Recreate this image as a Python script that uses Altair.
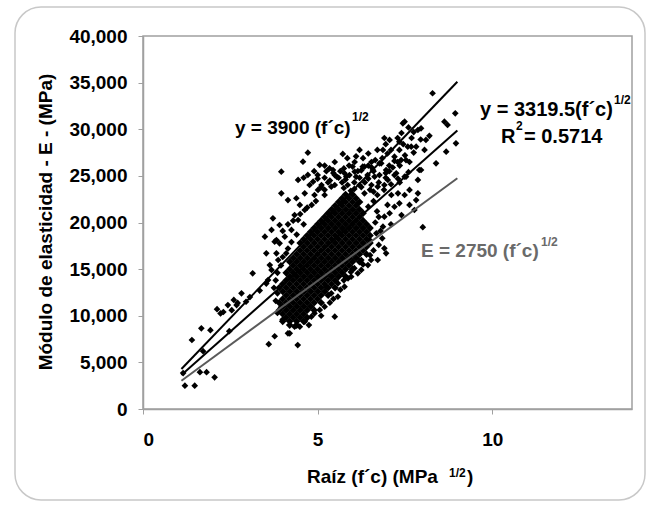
import altair as alt
import pandas as pd

# ---------------- data ----------------
# x = Raíz(f'c) (MPa^1/2), y = E (MPa)

# dense core of the cloud: one y value per row and the x values in that row
core_row_y = [9000, 9400, 9800, 10200, 10600, 11000, 11400, 11800, 12200, 12600,
              13000, 13400, 13800, 14200, 14600, 15000, 15400, 15800, 16200, 16600,
              17000, 17400, 17800, 18200, 18600, 19000, 19400, 19800, 20200, 20600,
              21000, 21400, 21800, 22200, 22600, 23000]
core_row_x = [
    [4.2, 4.4],
    [4.0, 4.2, 4.4, 4.6],
    [4.1, 4.3, 4.5, 4.7],
    [4.0, 4.2, 4.4, 4.6],
    [3.9, 4.1, 4.3, 4.5, 4.7, 4.9],
    [4.0, 4.2, 4.4, 4.6, 4.8],
    [3.9, 4.1, 4.3, 4.5, 4.7, 4.9, 5.1],
    [4.0, 4.2, 4.4, 4.6, 4.8, 5.0],
    [4.1, 4.3, 4.5, 4.7, 4.9, 5.1, 5.3],
    [4.0, 4.2, 4.4, 4.6, 4.8, 5.0, 5.2],
    [3.9, 4.1, 4.3, 4.5, 4.7, 4.9, 5.1, 5.3, 5.5],
    [4.0, 4.2, 4.4, 4.6, 4.8, 5.0, 5.2, 5.4],
    [4.1, 4.3, 4.5, 4.7, 4.9, 5.1, 5.3, 5.5],
    [4.2, 4.4, 4.6, 4.8, 5.0, 5.2, 5.4, 5.6, 5.8],
    [4.1, 4.3, 4.5, 4.7, 4.9, 5.1, 5.3, 5.5, 5.7],
    [4.2, 4.4, 4.6, 4.8, 5.0, 5.2, 5.4, 5.6, 5.8, 6.0],
    [4.3, 4.5, 4.7, 4.9, 5.1, 5.3, 5.5, 5.7, 5.9],
    [4.2, 4.4, 4.6, 4.8, 5.0, 5.2, 5.4, 5.6, 5.8, 6.0, 6.2],
    [4.3, 4.5, 4.7, 4.9, 5.1, 5.3, 5.5, 5.7, 5.9, 6.1],
    [4.4, 4.6, 4.8, 5.0, 5.2, 5.4, 5.6, 5.8, 6.0, 6.2, 6.4],
    [4.5, 4.7, 4.9, 5.1, 5.3, 5.5, 5.7, 5.9, 6.1, 6.3],
    [4.6, 4.8, 5.0, 5.2, 5.4, 5.6, 5.8, 6.0, 6.2, 6.4],
    [4.5, 4.7, 4.9, 5.1, 5.3, 5.5, 5.7, 5.9, 6.1, 6.3, 6.5],
    [4.6, 4.8, 5.0, 5.2, 5.4, 5.6, 5.8, 6.0, 6.2, 6.4],
    [4.7, 4.9, 5.1, 5.3, 5.5, 5.7, 5.9, 6.1, 6.3, 6.5],
    [4.8, 5.0, 5.2, 5.4, 5.6, 5.8, 6.0, 6.2, 6.4],
    [4.9, 5.1, 5.3, 5.5, 5.7, 5.9, 6.1, 6.3, 6.5],
    [5.0, 5.2, 5.4, 5.6, 5.8, 6.0, 6.2, 6.4],
    [5.1, 5.3, 5.5, 5.7, 5.9, 6.1, 6.3],
    [5.2, 5.4, 5.6, 5.8, 6.0, 6.2],
    [5.3, 5.5, 5.7, 5.9, 6.1, 6.3],
    [5.4, 5.6, 5.8, 6.0, 6.2],
    [5.5, 5.7, 5.9, 6.1],
    [5.6, 5.8, 6.0, 6.2],
    [5.7, 5.9, 6.1],
    [5.8, 6.0],
]

# scattered points around the core, (x, y)
pts_lower_left = [
    (1.15, 3850), (1.2, 2500), (1.48, 2500), (1.63, 3950), (1.82, 3950), (2.05, 3400),
    (1.4, 7400), (1.67, 8650), (1.93, 8450), (2.47, 8350), (1.72, 6200), (2.12, 10700),
    (2.22, 10250), (2.3, 10400), (2.43, 11150), (2.6, 11700), (2.68, 11150), (2.82, 12400),
    (2.95, 11500), (3.06, 12000), (3.14, 14550), (3.34, 12700), (3.53, 13450), (3.6, 6950),
    (3.77, 7800), (4.43, 6860), (2.54, 10600), (2.71, 11370),
]
pts_left = [
    (3.63, 15440), (3.82, 16700), (3.91, 17770), (3.53, 16700), (3.68, 14910), (3.58, 13830),
    (3.87, 15980), (3.72, 20450), (3.91, 19730), (3.68, 19200), (3.82, 18120), (4.06, 18480),
    (4.25, 19200), (4.44, 20270), (4.63, 21340), (3.49, 18480), (3.77, 17940), (3.75, 13000),
    (3.8, 13800), (3.85, 14600), (3.95, 15400), (4.0, 16300), (4.15, 17200), (4.49, 21880),
    (4.83, 21880), (4.34, 20800), (4.15, 19800), (4.3, 20200), (4.5, 20900), (4.0, 19100),
    (4.7, 21600), (4.95, 22300), (4.1, 16700), (4.25, 17900), (4.4, 18700), (3.85, 12400),
    (3.8, 11600), (3.95, 10900), (3.85, 10300), (4.0, 9600), (4.6, 19800),
]
pts_upper = [
    (4.72, 27490), (5.72, 27350), (3.96, 25450), (4.58, 26520), (5.06, 26170), (5.34, 25810),
    (4.44, 24560), (4.72, 25100), (4.87, 24380), (5.77, 25280), (6.06, 25450), (6.34, 25990),
    (6.63, 24910), (3.96, 23130), (4.15, 22410), (4.39, 22600), (4.63, 23130), (5.01, 23490),
    (5.39, 23840), (5.67, 22060), (6.15, 22060), (6.34, 23130), (6.72, 23840), (7.01, 24560),
    (6.82, 26350), (4.77, 24020), (5.11, 24020), (5.49, 24020), (5.86, 24020), (6.2, 24020),
    (6.54, 24020), (6.91, 24020), (4.91, 22950), (5.2, 22950), (6.71, 22950), (7.11, 22950),
    (7.49, 22950), (5.0, 25090), (5.49, 25090), (5.91, 25090), (6.43, 25090), (6.77, 25090),
    (7.2, 25090), (5.49, 26490), (6.06, 26490), (6.54, 26490), (7.29, 26490), (7.63, 26490),
    (6.2, 27780), (6.71, 27780), (7.34, 27780), (8.06, 27780), (6.91, 29060), (7.29, 29060),
    (7.69, 29060), (5.2, 23500), (6.5, 23500), (6.9, 23500), (5.3, 24300), (5.7, 24300),
    (6.05, 24300), (6.35, 24300), (6.75, 24300), (7.35, 24300), (4.6, 24800), (5.2, 24800),
    (5.6, 24800), (6.2, 24800), (6.95, 24800), (4.9, 25500), (5.25, 25500), (5.65, 25500),
    (6.15, 25500), (6.6, 25500), (7.05, 25500), (5.2, 26100), (5.9, 26100), (6.45, 26100),
    (7.05, 26100), (5.85, 26900), (6.3, 26900), (6.85, 26900), (6.45, 27400), (7.0, 27400),
    (6.95, 28400), (7.45, 28400), (5.95, 23400), (6.6, 22300), (6.45, 21700), (6.7, 21200),
    (5.0, 24700), (5.35, 24500), (5.55, 24900), (5.8, 24600), (6.1, 24900), (6.45, 24700),
    (5.1, 23800), (5.75, 23700), (6.05, 23600), (6.25, 23800), (6.6, 23300), (5.45, 25300),
    (5.75, 25800), (6.0, 26000), (6.25, 25600), (6.55, 25900), (6.95, 25300), (7.15, 25900),
    (7.3, 24700), (7.1, 24100), (6.65, 26700), (6.1, 27100),
]
pts_top_right = [
    (8.29, 33860), (8.94, 31710), (8.63, 30810), (8.72, 30460), (8.96, 28490), (8.68, 27590),
    (8.39, 26350), (7.87, 29920), (7.96, 30100), (7.49, 30810), (8.1, 28850), (7.82, 28130),
    (7.58, 28130), (7.34, 28670), (7.06, 28850), (6.87, 27780), (7.2, 27060), (7.53, 26700),
    (7.91, 25630), (7.87, 24560), (7.63, 23490), (7.87, 23130), (6.58, 25630), (6.29, 25990),
    (5.44, 25630), (5.82, 24910), (6.77, 26350), (6.96, 25630), (7.25, 25280), (7.53, 24910),
    (7.1, 27780), (7.39, 26700), (7.68, 28130), (7.49, 24910), (7.96, 25630), (7.44, 30640),
    (7.6, 25400), (7.35, 26100), (7.2, 26600), (7.75, 27500), (7.5, 27200), (7.95, 28900),
    (7.75, 29700), (8.2, 29300), (7.4, 29600), (7.6, 30200),
]
pts_right = [
    (7.77, 21340), (7.34, 22060), (7.06, 20990), (6.87, 19550), (6.68, 18840), (6.91, 17230),
    (6.49, 18120), (7.82, 22410), (7.3, 23130), (7.2, 21690), (6.91, 20620), (7.0, 21880),
    (7.63, 21880), (7.4, 20800), (8.01, 19500), (6.75, 17600), (6.85, 18300), (6.8, 19100),
    (7.1, 19800), (6.6, 17000), (6.65, 20000), (6.75, 20600),
]
pts_lower_right = [
    (6.53, 15980), (6.25, 14910), (5.96, 14190), (5.77, 13120), (5.39, 12410), (5.49, 9900),
    (5.2, 10970), (4.91, 10260), (4.63, 9360), (4.34, 8830), (4.15, 8120), (5.87, 14010),
    (6.15, 14550), (6.44, 15440), (6.72, 15980), (6.96, 16700), (6.25, 15980), (5.58, 12040),
    (5.06, 10620), (4.82, 9900), (4.49, 8830), (4.2, 8120), (5.25, 13120), (5.58, 13480),
    (5.65, 12800), (5.35, 11400), (5.1, 10000), (4.75, 9000), (6.05, 15100), (6.3, 15500),
    (5.95, 14700), (6.5, 16500), (5.45, 11800), (5.75, 13800),
]

# fitted lines (end points)
line_x = [1.1, 9.0]
line_3900_y = [4290, 35100]
line_3319_y = [3651, 29876]
line_2750_y = [3025, 24750]

x_ticks = [0, 5, 10]
y_ticks = [0, 5000, 10000, 15000, 20000, 25000, 30000, 35000, 40000]

# ---------------- tables ----------------
core_df = pd.DataFrame(
    [(x, y) for y, xs in zip(core_row_y, core_row_x) for x in xs], columns=["x", "y"])
halo_df = pd.DataFrame(
    pts_lower_left + pts_left + pts_upper + pts_top_right + pts_right + pts_lower_right,
    columns=["x", "y"])
one = pd.DataFrame({"k": [0]})

FONT = "Liberation Sans"
GRAY_AX = "#a0a0a0"

xscale = alt.Scale(domain=[0, 14], nice=False, zero=False)
yscale = alt.Scale(domain=[0, 40000], nice=False)
xaxis = alt.Axis(values=x_ticks, labelFont=FONT, labelFontSize=19, labelFontWeight="bold",
                 labelColor="black", domainColor=GRAY_AX, domainWidth=1.5,
                 tickColor=GRAY_AX, tickSize=5, labelPadding=16, grid=False)
yaxis = alt.Axis(values=y_ticks, format=",d", labelFont=FONT, labelFontSize=19,
                 labelFontWeight="bold", labelColor="black", domainColor=GRAY_AX,
                 domainWidth=1.5, tickColor=GRAY_AX, tickSize=5, labelPadding=11, grid=False)

frame = alt.Chart(one).mark_rect(cornerRadius=26, fillOpacity=0, stroke="#c8c8c8",
                                 strokeWidth=1.5).encode(
    x=alt.value(-128), x2=alt.value(502), y=alt.value(-29), y2=alt.value(464))

core = alt.Chart(core_df).mark_point(shape="diamond", filled=True, size=58, color="black",
                                     opacity=1).encode(
    x=alt.X("x:Q", scale=xscale, axis=xaxis, title=None),
    y=alt.Y("y:Q", scale=yscale, axis=yaxis, title=None))

halo = alt.Chart(halo_df).mark_point(shape="diamond", filled=True, size=45, color="black",
                                     opacity=1).encode(
    x=alt.X("x:Q", scale=xscale), y=alt.Y("y:Q", scale=yscale))


def fit_line(ys, color):
    df = pd.DataFrame({"x": line_x, "y": ys})
    return alt.Chart(df).mark_line(color=color, strokeWidth=2).encode(
        x=alt.X("x:Q", scale=xscale), y=alt.Y("y:Q", scale=yscale))


def label(text, x, y, size=19, color="black", angle=0, align="left"):
    return alt.Chart(one).mark_text(text=text, font=FONT, fontSize=size, fontWeight="bold",
                                    color=color, align=align, baseline="alphabetic",
                                    angle=angle).encode(x=alt.value(x), y=alt.value(y))


GRAY_TXT = "#6a6a6a"
texts = [
    label("y = 3900 (f´c)", 92, 98),
    label("1/2", 209, 85, size=12),
    label("y = 3319.5(f´c)", 337, 80, size=20),
    label("1/2", 471, 68, size=12),
    label("R", 358, 107, size=20),
    label("2", 373, 94, size=12),
    label(" = 0.5714", 381, 107, size=20),
    label("E = 2750 (f´c)", 278, 221, color=GRAY_TXT),
    label("1/2", 398, 210, size=12, color=GRAY_TXT),
    label("Raíz (f´c) (MPa", 164, 447),
    label("1/2", 306, 441, size=12),
    label(")", 324, 447),
    label("Módulo de elasticidad - E - (MPa)", -91, 186, angle=270, align="center"),
]

chart = alt.layer(
    frame, core, halo,
    fit_line(line_2750_y, "#5a5a5a"),
    fit_line(line_3319_y, "black"),
    fit_line(line_3900_y, "black"),
    *texts,
).properties(
    width=489, height=373,
    padding={"left": 143, "top": 36, "right": 20, "bottom": 97},
    autosize=alt.AutoSizeParams(type="none"),
    background="white",
).configure_view(stroke=GRAY_AX, strokeWidth=1.5)

chart.save("out.html", embed_options={"renderer": "svg", "actions": False})
